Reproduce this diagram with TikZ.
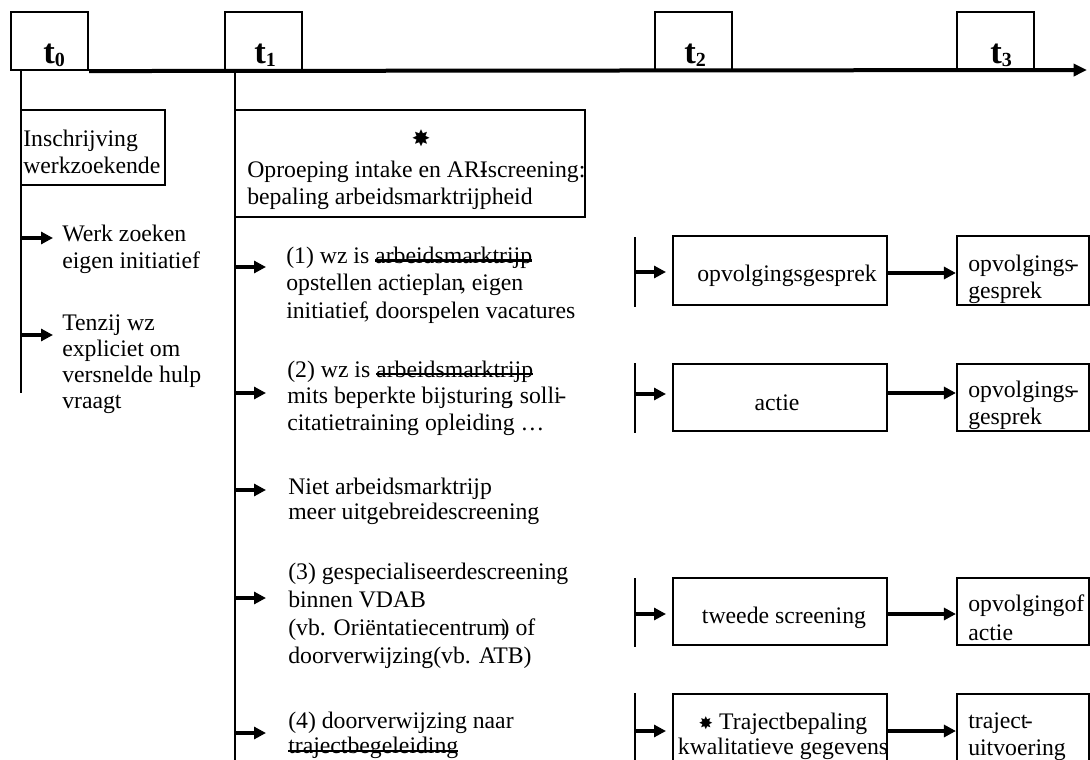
\documentclass[tikz,border=0pt]{standalone}
\usepackage{fontspec}
\setmainfont{Liberation Serif}
\newfontfamily\symf{DejaVu Sans}
\usetikzlibrary{arrows.meta,fit}
\newcommand\strk[1]{\setbox0\hbox{#1}\rlap{\rule[0.07em]{\wd0}{0.1em}}\box0}
\tikzset{
 box/.style={draw, line width=1.6pt, inner sep=0pt},
 vline/.style={line width=1.7pt},
 arr/.style={line width=3pt, -{Triangle[length=9pt,width=9pt]}},
 axisarr/.style={line width=3pt, -{Triangle[length=10pt,width=9pt]}},
 txt/.style={inner sep=0pt, align=left, anchor=west, font=\fontsize{17.8}{20.3}\selectfont},
 ctxt/.style={inner sep=0pt, align=center, font=\fontsize{17.8}{20.3}\selectfont},
 tlab/.style={inner sep=0pt, anchor=base west, font=\fontsize{26}{30}\selectfont\bfseries},
}
\begin{document}
\begin{tikzpicture}[x=0.75pt,y=-0.75pt]
\useasboundingbox (0,0) rectangle (1090,760);
\clip (0,0) rectangle (1090,760);

% time boxes
\node[box, fit={(11,12)(88,70)}] (t0) {};
\node[box, fit={(225,12)(302,70)}] (t1) {};
\node[box, fit={(655,12)(732,70)}] (t2) {};
\node[box, fit={(957,12)(1034,70)}] (t3) {};
\node[tlab] (l0) at (43,63) {t\raisebox{-2.5pt}{\fontsize{15}{15}\selectfont 0}};
\node[tlab] (l1) at (254,63) {t\raisebox{-2.5pt}{\fontsize{15}{15}\selectfont 1}};
\node[tlab] (l2) at (684,63) {t\raisebox{-2.5pt}{\fontsize{15}{15}\selectfont 2}};
\node[tlab] (l3) at (990,63) {t\raisebox{-2.5pt}{\fontsize{15}{15}\selectfont 3}};
\coordinate (axend) at (1087,70);
\draw[axisarr] (t0.south east) -- (axend);

% vertical lines
\coordinate (v0a) at (21,70); \coordinate (v0b) at (21,393);
\coordinate (v1a) at (235,70); \coordinate (v1b) at (235,770);
\draw[vline] (v0a) -- (v0b);
\draw[vline] (v1a) -- (v1b);

% t0 column
\node[box, fit={(21,110)(165,185)}] (insch) {};
\node[txt] (tinsch) at (23,151.5) {Inschrijving\\werkzoekende};
\node[txt] (werk) at (62,249) {Werk zoeken\\eigen initiatief};
\node[txt, font=\fontsize{17.8}{19.6}\selectfont] (tenzij) at (62,364) {Tenzij wz\\expliciet om\\versnelde hulp\\vraagt};
\coordinate (a0a) at (21,238); \coordinate (a0b) at (53,238);
\coordinate (a0c) at (21,335); \coordinate (a0d) at (53,335);
\draw[arr] (a0a) -- (a0b);
\draw[arr] (a0c) -- (a0d);

% t1 column
\node[box, fit={(235,110)(585,217)}] (oproep) {};
\node[inner sep=0pt, font=\symf\fontsize{17}{17}\selectfont] (star1) at (421,138) {✸};
\node[txt] (toproep) at (247,185) {Oproeping intake en ARI\llap{-}screening:\\bepaling arbeidsmarktrijpheid};

\node[txt, font=\fontsize{17.8}{20.6}\selectfont] (i1) at (286,285) {(1) wz is \strk{arbeidsmarktrijp}\\opstellen actieplan\kern-0.15em, eigen\\initiatief\kern-0.12em, doorspelen vacatures};
\node[txt, font=\fontsize{17.8}{20}\selectfont] (i2) at (287,398) {(2) wz is \strk{arbeidsmarktrijp}\\mits beperkte bijsturing\kern-0.2em, solli\kern-0.1em-\\citatietraining opleiding \dots};
\node[txt, font=\fontsize{17.8}{19}\selectfont] (i3) at (288,501) {Niet arbeidsmarktrijp\\meer uitgebreidescreening};
\node[txt, font=\fontsize{17.8}{21}\selectfont] (i4) at (288,616) {(3) gespecialiseerdescreening\\binnen VDAB\\(vb. Oriëntatiecentrum\kern-0.2em) of\\doorverwijzing(vb. ATB)};
\node[txt, font=\fontsize{17.8}{19}\selectfont] (i5) at (288,735.5) {(4) doorverwijzing naar\\\strk{trajectbegeleiding}};
\foreach \y/\n in {267/1,393/2,490/3,598/4,733/5}{
  \coordinate (s\n) at (235,\y);
  \coordinate (e\n) at (266,\y);
  \draw[arr] (s\n) -- (e\n);
}

% t2 / t3 columns
\node[box, fit={(673,236)(887,305)}] (m1) {};
\node[box, fit={(673,364)(887,431)}] (m2) {};
\node[box, fit={(673,578)(887,645)}] (m3) {};
\node[box, fit={(673,694)(887,800)}] (m4) {};
\node[box, fit={(957,236)(1089,305)}] (r1) {};
\node[box, fit={(957,364)(1089,431)}] (r2) {};
\node[box, fit={(957,578)(1089,645)}] (r3) {};
\node[box, fit={(957,694)(1089,800)}] (r4) {};

\node[ctxt] (tm1) at (787,276) {opvolgingsgesprek};
\node[ctxt] (tm2) at (777,403) {actie};
\node[ctxt] (tm3) at (784,618) {tweede screening};
\node[ctxt, font=\fontsize{17.8}{19}\selectfont] (tm4) at (783,736.5) {{\symf\fontsize{13}{13}\selectfont ✸} Trajectbepaling\\kwalitatieve gegevens};

\node[txt] (tr1) at (968,279) {opvolgings\kern-0.12em-\\gesprek};
\node[txt] (tr2) at (968,405) {opvolgings\kern-0.12em-\\gesprek};
\node[txt, font=\fontsize{17.8}{21.5}\selectfont] (tr3) at (968,618) {opvolgingof\\actie};
\node[txt] (tr4) at (968,737) {traject\kern-0.12em-\\uitvoering};

% small bars at t2
\foreach \n/\ya/\yb in {1/237/307,2/363/433,3/578/647,4/693/770}{
  \coordinate (ba\n) at (635,\ya);
  \coordinate (bb\n) at (635,\yb);
  \draw[vline] (ba\n) -- (bb\n);
}
\foreach \n/\y in {1/272,2/394,3/614,4/731}{
  \coordinate (p\n) at (635,\y);
  \coordinate (q\n) at (666,\y);
  \draw[arr] (p\n) -- (q\n);
}
\draw[arr] (m1.east |- 0,273) -- (r1.west |- 0,273);
\draw[arr] (m2.east |- 0,393) -- (r2.west |- 0,393);
\draw[arr] (m3.east |- 0,614) -- (r3.west |- 0,614);
\draw[arr] (m4.east |- 0,731) -- (r4.west |- 0,731);
\end{tikzpicture}
\end{document}
